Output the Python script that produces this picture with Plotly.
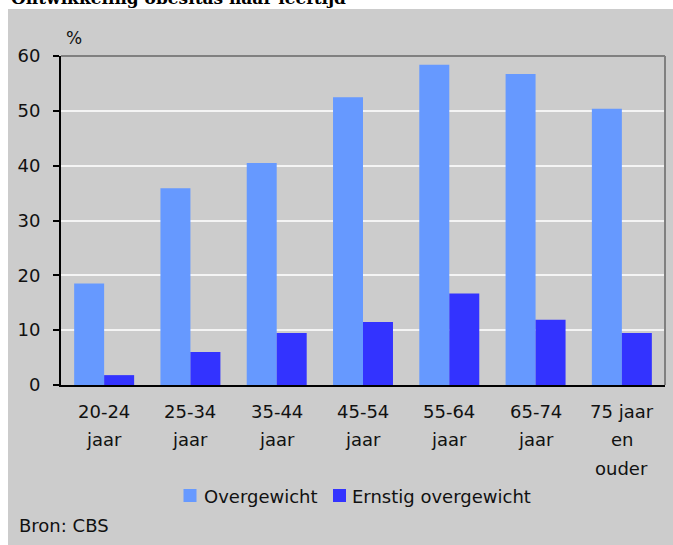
import plotly.graph_objects as go

# Age groups (line breaks mark the wrapped axis labels)
categories = ["20-24\njaar", "25-34\njaar", "35-44\njaar", "45-54\njaar",
              "55-64\njaar", "65-74\njaar", "75 jaar\nen\nouder"]
overgewicht = [18.5, 35.9, 40.5, 52.5, 58.4, 56.7, 50.4]
ernstig_overgewicht = [1.8, 6.0, 9.5, 11.5, 16.7, 11.9, 9.5]
series_names = ["Overgewicht", "Ernstig overgewicht"]
series_colors = ["#6699ff", "#3333ff"]
y_ticks = [0, 10, 20, 30, 40, 50, 60]
title_text = "Ontwikkeling obesitas naar leeftijd"
unit_text = "%"
source_text = "Bron: CBS"

W, H = 673, 545
L, R, T, B = 61, 665, 56, 385  # plot area in pixels
FONT = "DejaVu Sans"
TXT = "#111111"


def px_x(px):
    return (px - L) / (R - L)


def px_y(py):
    return (B - py) / (B - T)


fig = go.Figure()
for name, vals, col in zip(series_names, [overgewicht, ernstig_overgewicht], series_colors):
    fig.add_trace(go.Bar(x=categories, y=vals, name=name,
                         marker=dict(color=col, line=dict(width=0)),
                         showlegend=False))

shapes = [
    # grey panel behind everything
    dict(type="rect", xref="paper", yref="paper", layer="below",
         x0=px_x(8), x1=px_x(673), y0=px_y(545), y1=px_y(9),
         fillcolor="#cccccc", line=dict(width=0)),
    # top and right frame of the plot area
    dict(type="line", xref="paper", yref="paper", x0=0, x1=1, y0=1, y1=1,
         line=dict(color="#808080", width=2)),
    dict(type="line", xref="paper", yref="paper", x0=1, x1=1, y0=0, y1=1,
         line=dict(color="#808080", width=2)),
]

annotations = [
    dict(text="<b>%s</b>" % title_text, xref="paper", yref="paper",
         x=px_x(9), y=px_y(10), xanchor="left", yanchor="bottom", showarrow=False,
         font=dict(family="DejaVu Serif", size=17, color="#000000")),
    dict(text=unit_text, xref="paper", yref="paper", x=px_x(74), y=px_y(38),
         xanchor="center", yanchor="middle", showarrow=False,
         font=dict(family=FONT, size=17, color=TXT)),
    dict(text=source_text, xref="paper", yref="paper", x=px_x(17), y=px_y(525),
         xanchor="left", yanchor="middle", showarrow=False,
         font=dict(family=FONT, size=18, color=TXT)),
]

# wrapped category labels under the axis
for cat in categories:
    for k, line in enumerate(cat.split("\n")):
        annotations.append(dict(text=line, xref="x", yref="paper", x=cat,
                                y=px_y(411 + 28.7 * k), xanchor="center",
                                yanchor="middle", showarrow=False,
                                font=dict(family=FONT, size=18, color=TXT)))

# legend keys
legend_pos = [(183.5, 202), (333, 350)]
for (sx, tx), name, col in zip(legend_pos, series_names, series_colors):
    shapes.append(dict(type="rect", xref="paper", yref="paper",
                       x0=px_x(sx), x1=px_x(sx + 13), y0=px_y(502), y1=px_y(489),
                       fillcolor=col, line=dict(width=0)))
    annotations.append(dict(text=name, xref="paper", yref="paper", x=px_x(tx),
                            y=px_y(496), xanchor="left", yanchor="middle",
                            showarrow=False,
                            font=dict(family=FONT, size=18, color=TXT)))

fig.update_layout(
    width=W, height=H,
    margin=dict(l=L, r=W - R, t=T, b=H - B, pad=0),
    paper_bgcolor="white", plot_bgcolor="#cccccc",
    barmode="group", bargap=0.305, bargroupgap=0,
    font=dict(family=FONT, size=18, color=TXT),
    shapes=shapes, annotations=annotations,
    xaxis=dict(type="category", range=[-0.5, 6.5], showticklabels=False,
               showgrid=False, zeroline=False, showline=True,
               linecolor="#000000", linewidth=2, ticks=""),
    yaxis=dict(range=[0, 60], tickvals=y_ticks, showgrid=True,
               gridcolor="#f4f4f4", gridwidth=2, zeroline=False,
               showline=True, linecolor="#000000", linewidth=2,
               ticks="outside", ticklen=6, tickcolor="#000000", tickwidth=1.5,
               ticklabelstandoff=9,
               tickfont=dict(family=FONT, size=18, color=TXT)),
)

fig.write_html("out.html")
